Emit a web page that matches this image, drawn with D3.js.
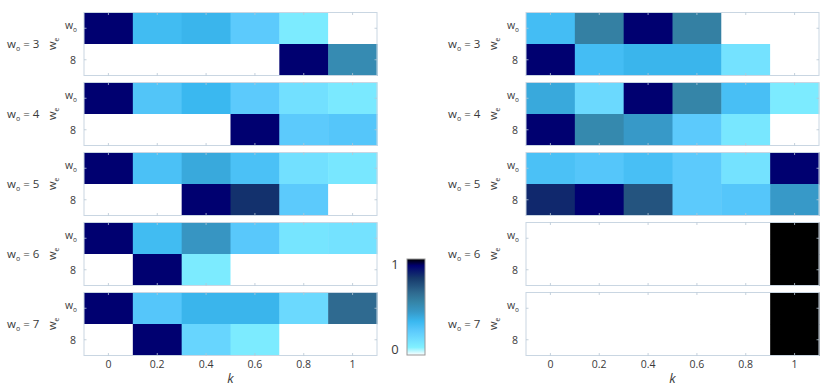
<!DOCTYPE html>
<html><head><meta charset="utf-8">
<script src="https://cdn.jsdelivr.net/npm/d3@7"></script>
<style>
html,body{margin:0;padding:0;background:#fff;}
svg text{font-family:"Open Sans","Noto Sans",sans-serif;fill:#3a3a3a;}
</style></head>
<body><svg id="chart" width="830" height="390"></svg>
<script>
// ---- data ----
const kValues = [0, 0.2, 0.4, 0.6, 0.8, 1];
const kTickLabels = ["0", "0.2", "0.4", "0.6", "0.8", "1"];
const woValues = [3, 4, 5, 6, 7];
const rowLabels = ["wo", "8"];
// left group: top row (w_o) and bottom row (8) per wo
const leftTop = [
  [0.93, 0.33, 0.36, 0.25, 0.10, 0.00],
  [0.93, 0.28, 0.35, 0.25, 0.15, 0.11],
  [0.93, 0.30, 0.40, 0.30, 0.15, 0.12],
  [0.93, 0.33, 0.47, 0.26, 0.13, 0.14],
  [0.93, 0.27, 0.36, 0.36, 0.18, 0.65]
];
const leftBottom = [
  [0.00, 0.00, 0.00, 0.00, 0.93, 0.52],
  [0.00, 0.00, 0.00, 0.93, 0.25, 0.27],
  [0.00, 0.00, 0.93, 0.82, 0.25, 0.00],
  [0.00, 0.93, 0.10, 0.00, 0.00, 0.00],
  [0.00, 0.93, 0.20, 0.10, 0.00, 0.00]
];
// right group
const rightTop = [
  [0.32, 0.57, 0.93, 0.57, 0.00, 0.00],
  [0.40, 0.18, 0.93, 0.55, 0.31, 0.10],
  [0.30, 0.27, 0.31, 0.25, 0.14, 0.93],
  [0.00, 0.00, 0.00, 0.00, 0.00, 1.00],
  [0.00, 0.00, 0.00, 0.00, 0.00, 1.00]
];
const rightBottom = [
  [0.93, 0.32, 0.36, 0.36, 0.14, 0.00],
  [0.93, 0.53, 0.45, 0.25, 0.12, 0.00],
  [0.84, 0.93, 0.72, 0.25, 0.27, 0.45],
  [0.00, 0.00, 0.00, 0.00, 0.00, 1.00],
  [0.00, 0.00, 0.00, 0.00, 0.00, 1.00]
];
const colorStops = [0, 0.08, 0.15, 0.25, 0.35, 0.45, 0.55, 0.65, 0.80, 0.93, 1];
const colorRange = ["#ffffff", "#80f0ff", "#72e0ff", "#5ccafc", "#3ab8f0", "#3799c8",
                    "#3585a8", "#2f6a90", "#173a6c", "#000070", "#000000"];

// ---- drawing ----
const svg = d3.select("#chart");
const color = d3.scaleLinear().domain(colorStops).range(colorRange).clamp(true);

const panelTops = [12.5, 82.5, 152.5, 222.5, 292.5];
const panelH = 63;
const groups = [
  {x0: 84, x1: 377, top: leftTop, bottom: leftBottom, labX: 7, wX: 56, tickX: 77},
  {x0: 526, x1: 819, top: rightTop, bottom: rightBottom, labX: 448, wX: 497, tickX: 519}
];

groups.forEach(g => {
  const x = d3.scaleLinear().domain([-0.1, 1.1]).range([g.x0, g.x1]);
  const cw = x(0.2) - x(0);
  woValues.forEach((wo, i) => {
    const y = d3.scaleBand().domain(rowLabels).range([panelTops[i], panelTops[i] + panelH]);
    const gp = svg.append("g");
    const rows = [g.top[i], g.bottom[i]];
    rows.forEach((vals, r) => {
      gp.selectAll(null).data(vals).enter().append("rect")
        .attr("x", (d, j) => x(kValues[j]) - cw / 2)
        .attr("y", y(rowLabels[r]))
        .attr("width", cw + 0.5)
        .attr("height", y.bandwidth() + 0.5)
        .attr("fill", d => color(d));
    });
    // frame
    gp.append("rect").attr("x", g.x0).attr("y", panelTops[i]).attr("width", g.x1 - g.x0)
      .attr("height", panelH).attr("fill", "none").attr("stroke", "#c9d6e2").attr("stroke-width", 1);
    // ticks inward
    kValues.forEach(k => {
      gp.append("line").attr("x1", x(k)).attr("x2", x(k)).attr("y1", panelTops[i]).attr("y2", panelTops[i] + 2.5)
        .attr("stroke", "#b8c6d4").attr("stroke-width", 0.8);
      gp.append("line").attr("x1", x(k)).attr("x2", x(k)).attr("y1", panelTops[i] + panelH).attr("y2", panelTops[i] + panelH - 2.5)
        .attr("stroke", "#b8c6d4").attr("stroke-width", 0.8);
    });
    rowLabels.forEach(rl => {
      const yc = y(rl) + y.bandwidth() / 2;
      gp.append("line").attr("x1", g.x0).attr("x2", g.x0 + 2.5).attr("y1", yc).attr("y2", yc)
        .attr("stroke", "#b8c6d4").attr("stroke-width", 0.8);
      gp.append("line").attr("x1", g.x1).attr("x2", g.x1 - 2.5).attr("y1", yc).attr("y2", yc)
        .attr("stroke", "#b8c6d4").attr("stroke-width", 0.8);
    });
    // y tick labels
    const t1 = gp.append("text").attr("x", g.tickX).attr("y", y("wo") + y.bandwidth() / 2 + 1)
      .attr("text-anchor", "end").attr("font-size", 10.5);
    t1.append("tspan").text("w");
    t1.append("tspan").attr("font-size", 6.5).attr("dy", 3).text("o");
    gp.append("text").attr("x", g.tickX - 1).attr("y", y("8") + y.bandwidth() / 2 + 4)
      .attr("text-anchor", "end").attr("font-size", 10.5).text("8");
    // rotated w_e label
    const yc = panelTops[i] + panelH / 2;
    const we = gp.append("text").attr("transform", `translate(${g.wX},${yc}) rotate(-90)`)
      .attr("text-anchor", "middle").attr("font-size", 11);
    we.append("tspan").text("w");
    we.append("tspan").attr("font-size", 6.5).attr("dy", 3).text("e");
    // group label
    const gl = gp.append("text").attr("x", g.labX).attr("y", yc + 4).attr("font-size", 11.5);
    gl.append("tspan").text("w");
    gl.append("tspan").attr("font-size", 7).attr("dy", 3).text("o");
    gl.append("tspan").attr("dy", -3).text(" = " + wo);
  });
  // x axis labels
  svg.selectAll(null).data(kValues).enter().append("text")
    .attr("x", d => x(d)).attr("y", 368).attr("text-anchor", "middle").attr("font-size", 10.5)
    .text((d, j) => kTickLabels[j]);
  svg.append("text").attr("x", x(0.5)).attr("y", 383).attr("text-anchor", "middle")
    .attr("font-size", 13).attr("font-style", "italic").text("k");
});

// colorbar
const cbX = 407, cbY = 259, cbW = 18, cbH = 96;
const defs = svg.append("defs");
const grad = defs.append("linearGradient").attr("id", "cbg").attr("x1", 0).attr("y1", 1).attr("x2", 0).attr("y2", 0);
colorStops.forEach((s, i) => grad.append("stop").attr("offset", s).attr("stop-color", colorRange[i]));
svg.append("rect").attr("x", cbX).attr("y", cbY).attr("width", cbW).attr("height", cbH)
  .attr("fill", "url(#cbg)").attr("stroke", "#999").attr("stroke-width", 1);
const cbScale = d3.scaleLinear().domain([0, 1]).range([cbY + cbH - 6, cbY + 5]);
[0, 1].forEach(v => {
  svg.append("text").attr("x", 395).attr("y", cbScale(v) + 5).attr("text-anchor", "middle")
    .attr("font-size", 13).text(v);
});
</script></body></html>
